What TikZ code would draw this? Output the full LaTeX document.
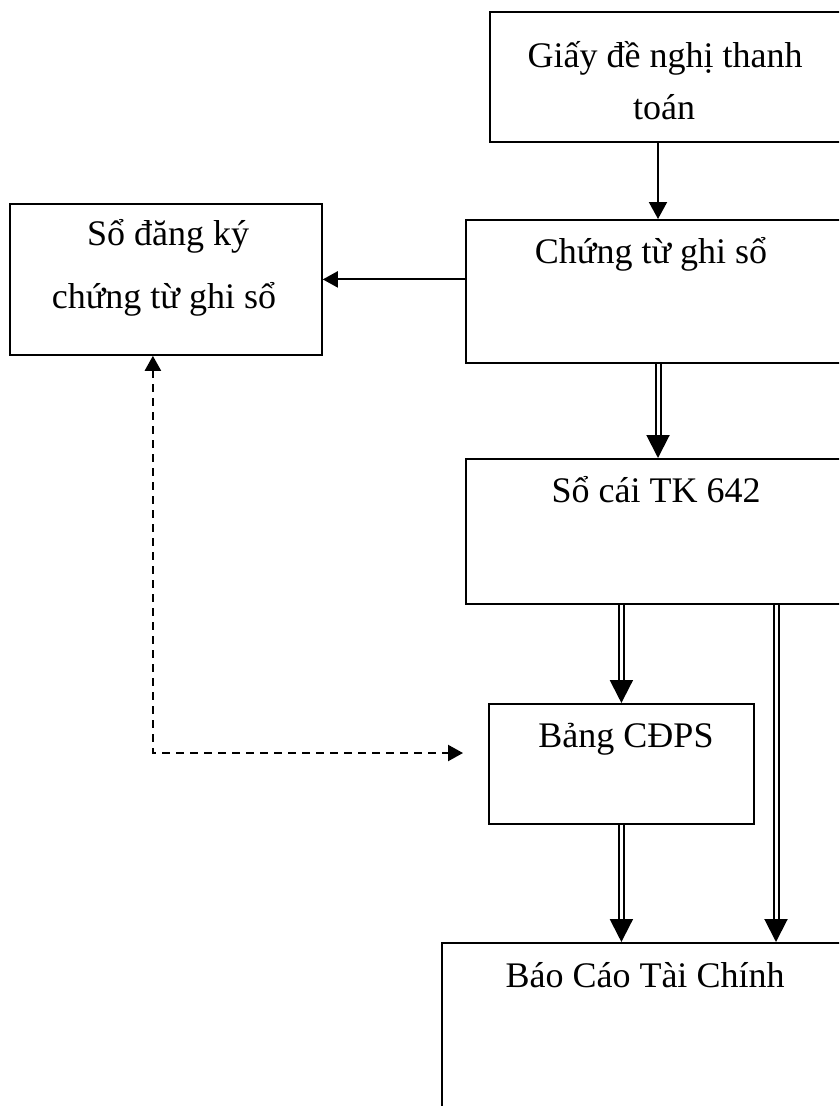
\documentclass[tikz,border=0pt]{standalone}
\usepackage{fontspec}
\setmainfont{Liberation Serif}
\usetikzlibrary{arrows.meta}
\begin{document}
\begin{tikzpicture}[x=1pt,y=-1pt,
  box/.style={draw, line width=1.8pt, rectangle, inner sep=0pt, anchor=north west},
  lbl/.style={anchor=base, inner sep=0pt, font=\fontsize{36}{54}\selectfont},
  one/.style={line width=2pt, -{Triangle[length=17pt,width=18pt]}},
  onesmall/.style={line width=2pt, -{Triangle[length=15pt,width=16pt]}},
  dbl/.style={double, double distance=3pt, line width=2pt, -{Triangle[length=23pt,width=23pt]}},
  dsh/.style={line width=2.2pt, dash pattern=on 8pt off 6pt,
    {Triangle[length=15pt,width=16pt]}-{Triangle[length=15pt,width=16pt]}}]
\useasboundingbox (0,0) rectangle (839,1106);
\clip (0,0) rectangle (839,1106);

% boxes
\node[box, minimum width=361pt, minimum height=130pt] (g)  at (489,11)  {};
\node[box, minimum width=385pt, minimum height=143pt] (c)  at (465,219) {};
\node[box, minimum width=312pt, minimum height=151pt] (s)  at (9,203)   {};
\node[box, minimum width=385pt, minimum height=145pt] (sc) at (465,458) {};
\node[box, minimum width=265pt, minimum height=120pt] (b)  at (488,703) {};
\node[box, minimum width=409pt, minimum height=200pt] (r)  at (441,942) {};

% labels
\node[lbl] (g1) at (665,67)  {Giấy đề nghị thanh};
\node[lbl] (g2) at (664,119) {toán};
\node[lbl] (c1) at (651,263) {Chứng từ ghi sổ};
\node[lbl] (s1) at (168,245) {Sổ đăng ký};
\node[lbl] (s2) at (164,308) {chứng từ ghi sổ};
\node[lbl] (sc1) at (656,502) {Sổ cái TK 642};
\node[lbl] (b1) at (626,747) {Bảng CĐPS};
\node[lbl] (r1) at (645,987) {Báo Cáo Tài Chính};

% connector guides
\coordinate (xa) at (658,0);
\coordinate (xb) at (776,0);
\coordinate (dt) at (463,753);

% connectors
\draw[one] (xa |- g.south) -- (xa |- c.north);
\draw[onesmall] (c.west |- s.east) -- (s.east);
\draw[dbl] (xa |- c.south) -- (xa |- sc.north);
\draw[dbl] (b.north |- sc.south) -- (b.north);
\draw[dbl] (b.south) -- (b.south |- r.north);
\draw[dbl] (xb |- sc.south) -- (xb |- r.north);
\draw[dsh] ([xshift=-13pt]s.south) |- (dt);
\end{tikzpicture}
\end{document}
